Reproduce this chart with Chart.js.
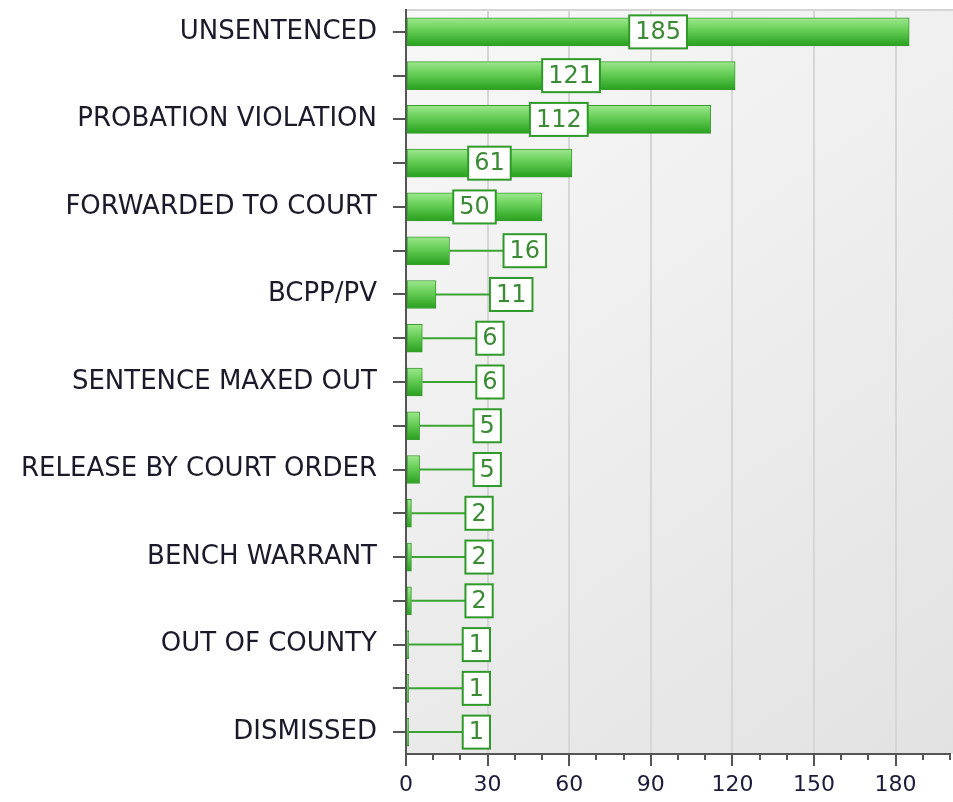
<!DOCTYPE html>
<html>
<head>
<meta charset="utf-8">
<script src="https://cdn.jsdelivr.net/npm/chart.js@4/dist/chart.umd.min.js"></script>
<style>
  html, body { margin: 0; padding: 0; background: #ffffff; }
  #wrap { width: 953px; height: 802px; position: relative; }
</style>
</head>
<body>
<div id="wrap"><canvas id="c" width="953" height="802"></canvas></div>
<script>
// ---- data ----
const categories = [
  'UNSENTENCED', '', 'PROBATION VIOLATION', '', 'FORWARDED TO COURT', '',
  'BCPP/PV', '', 'SENTENCE MAXED OUT', '', 'RELEASE BY COURT ORDER', '',
  'BENCH WARRANT', '', 'OUT OF COUNTY', '', 'DISMISSED'
];
const counts = [185, 121, 112, 61, 50, 16, 11, 6, 6, 5, 5, 2, 2, 2, 1, 1, 1];
const xTickValues = [0, 30, 60, 90, 120, 150, 180];
const xMinorStep = 10;
const xMax = 200;

const FONT = '"DejaVu Sans", Verdana, sans-serif';
const BAR_THICK = 28;

// plot area background
const bgPlugin = {
  id: 'bg',
  beforeDraw(chart) {
    const { ctx, chartArea: a } = chart;
    ctx.save();
    const g = ctx.createLinearGradient(a.left, a.top, a.right, a.bottom);
    g.addColorStop(0, '#f8f8f8');
    g.addColorStop(1, '#e2e2e2');
    ctx.fillStyle = g;
    ctx.fillRect(a.left, a.top, a.right - a.left + 10, a.bottom - a.top);
    ctx.strokeStyle = '#d4d4d4';
    ctx.lineWidth = 2;
    ctx.beginPath();
    ctx.moveTo(a.left, a.top);
    ctx.lineTo(chart.width, a.top);
    ctx.stroke();
    ctx.restore();
  }
};

// minor ticks on x axis
const minorPlugin = {
  id: 'minor',
  afterDraw(chart) {
    const { ctx, chartArea: a, scales: { x } } = chart;
    ctx.save();
    ctx.strokeStyle = '#555555';
    ctx.lineWidth = 2;
    for (let v = 0; v <= xMax; v += xMinorStep) {
      if (v % 30 === 0) continue;
      const px = Math.round(x.getPixelForValue(v));
      ctx.beginPath();
      ctx.moveTo(px, a.bottom);
      ctx.lineTo(px, a.bottom + 6);
      ctx.stroke();
    }
    ctx.restore();
  }
};

// value labels (boxes)
const labelPlugin = {
  id: 'vlabels',
  afterDatasetsDraw(chart) {
    const { ctx } = chart;
    const meta = chart.getDatasetMeta(0);
    const ds = chart.data.datasets[0].data;
    ctx.save();
    ctx.font = '24px ' + FONT;
    ctx.textBaseline = 'middle';
    ctx.textAlign = 'center';
    meta.data.forEach((bar, i) => {
      const txt = String(ds[i]);
      const tw = ctx.measureText(txt).width;
      const bw = tw + 12;
      const bh = 33;
      const barStart = bar.base;
      const barEnd = bar.x;
      const barW = barEnd - barStart;
      let cx;
      const y = bar.y;
      if (bw + 6 <= barW) {
        cx = (barStart + barEnd) / 2;
      } else {
        const left = barEnd + 54;
        cx = left + bw / 2;
        ctx.strokeStyle = '#3aa332';
        ctx.lineWidth = 2;
        ctx.beginPath();
        ctx.moveTo(barEnd, y);
        ctx.lineTo(left, y);
        ctx.stroke();
      }
      const bx = cx - bw / 2, by = y - bh / 2;
      ctx.fillStyle = '#ffffff';
      ctx.fillRect(bx, by, bw, bh);
      ctx.strokeStyle = '#2f9a2a';
      ctx.lineWidth = 2;
      ctx.strokeRect(bx, by, bw, bh);
      ctx.fillStyle = '#3b8b35';
      ctx.fillText(txt, cx, y + 1);
    });
    ctx.restore();
  }
};

new Chart(document.getElementById('c'), {
  type: 'bar',
  data: {
    labels: categories,
    datasets: [{
      data: counts,
      barThickness: BAR_THICK,
      borderWidth: 1,
      borderColor: '#3a9c30',
      borderSkipped: false,
      backgroundColor(ctx) {
        const chart = ctx.chart;
        const a = chart.chartArea;
        const ys = chart.scales.y;
        if (!a || !ys) return '#5cc84e';
        const yc = ys.getPixelForValue(ctx.dataIndex);
        const g = chart.ctx.createLinearGradient(0, yc - BAR_THICK / 2, 0, yc + BAR_THICK / 2);
        g.addColorStop(0, '#9de88d');
        g.addColorStop(0.4, '#6ad05a');
        g.addColorStop(1, '#27a01e');
        return g;
      }
    }]
  },
  options: {
    indexAxis: 'y',
    responsive: false,
    animation: false,
    devicePixelRatio: 1,
    layout: { padding: { top: 10, right: 3, left: 0, bottom: 0 } },
    plugins: { legend: { display: false }, tooltip: { enabled: false } },
    scales: {
      x: {
        min: 0,
        max: xMax,
        afterBuildTicks(scale) {
          scale.ticks = xTickValues.map(v => ({ value: v }));
        },
        afterFit(scale) { scale.height = 48; },
        border: { color: '#555555', width: 2 },
        grid: {
          color: '#d6d6d6',
          lineWidth: 2,
          tickColor: '#555555',
          tickLength: 12,
          drawTicks: true
        },
        ticks: {
          color: '#1c1c3a',
          font: { family: FONT, size: 22 },
          padding: 6,
          maxRotation: 0
        }
      },
      y: {
        afterFit(scale) {
          scale.width = 406;
          scale.paddingTop = 0;
          scale.paddingBottom = 0;
        },
        border: { color: '#555555', width: 2 },
        grid: {
          display: true,
          drawOnChartArea: false,
          offset: false,
          tickColor: '#555555',
          tickLength: 13,
          lineWidth: 2
        },
        ticks: {
          color: '#1a1a2a',
          font: { family: FONT, size: 26 },
          padding: 16,
          autoSkip: false
        }
      }
    }
  },
  plugins: [bgPlugin, minorPlugin, labelPlugin]
});
</script>
</body>
</html>
